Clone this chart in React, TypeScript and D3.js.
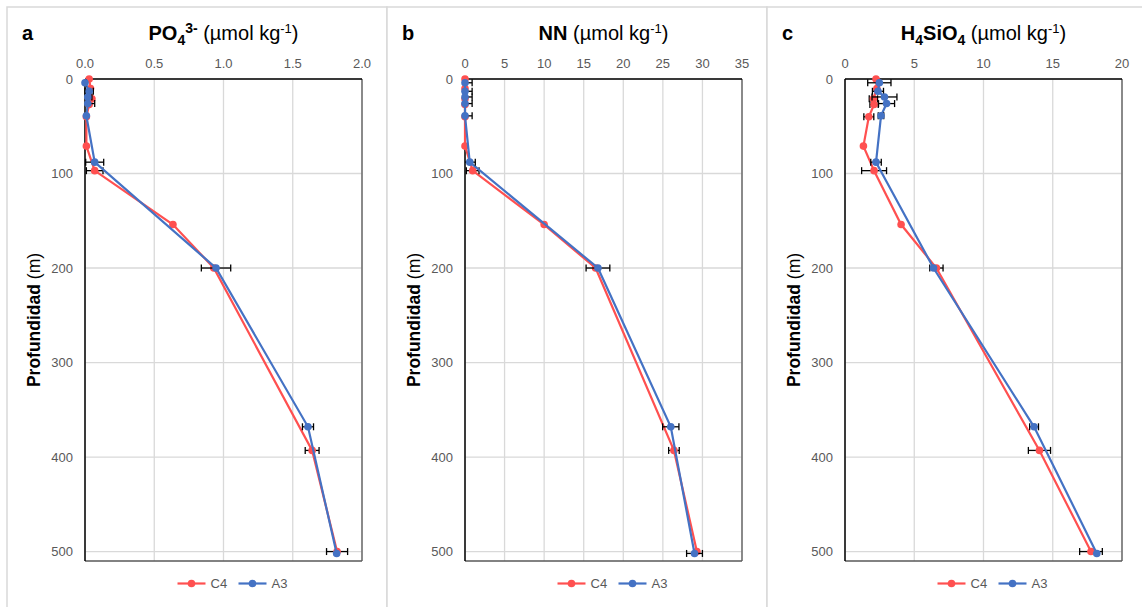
import React from 'react';
import * as d3 from 'd3';

// ---- data ----
const depthC4 = [0, 10, 21, 27, 40, 71, 97, 154, 200, 393, 500];
const depthA3 = [4, 13, 19, 26, 39, 88, 200, 368, 502];

const po4C4 = [0.03, 0.04, 0.05, 0.03, 0.01, 0.01, 0.07, 0.635, 0.93, 1.64, 1.82];
const po4C4Err = [0, 0, 0, 0, 0, 0, 0.06, 0, 0, 0.05, 0.076];
const po4A3 = [0.0, 0.03, 0.02, 0.02, 0.01, 0.07, 0.946, 1.61, 1.817];
const po4A3Err = [0.01, 0.03, 0.03, 0.05, 0, 0.065, 0.106, 0.04, 0];

const nnC4 = [0, 0, 0, 0, 0, 0, 0.97, 10.0, 16.5, 26.4, 29.3];
const nnC4Err = [0, 0, 0, 0, 0, 0, 0.8, 0, 0, 0.67, 0];
const nnA3 = [0, 0, 0, 0, 0, 0.6, 16.8, 26.0, 29.0];
const nnA3Err = [0.9, 0.9, 0.9, 0.9, 0.9, 0.7, 1.5, 1.03, 1.0];

const siC4 = [2.24, 2.3, 2.05, 2.1, 1.72, 1.33, 2.1, 4.05, 6.6, 14.04, 17.76];
const siC4Err = [0, 0, 0.3, 0.3, 0.36, 0, 0.9, 0, 0.48, 0.8, 0.82];
const siA3 = [2.48, 2.38, 2.85, 3.0, 2.6, 2.24, 6.39, 13.65, 18.18];
const siA3Err = [0.84, 0.4, 0.9, 0.58, 0.2, 0.38, 0, 0.32, 0];

const po4Ticks = [0, 0.5, 1.0, 1.5, 2.0];
const nnTicks = [0, 5, 10, 15, 20, 25, 30, 35];
const siTicks = [0, 5, 10, 15, 20];
const depthTicks = [0, 100, 200, 300, 400, 500];

const seriesNames = ['C4', 'A3'];
const panelLetters = ['a', 'b', 'c'];
const yTitle = 'Profundidad';

const RED = '#ff5050';
const BLUE = '#4472c4';
const FONT = "'Liberation Sans', Arial, sans-serif";

type PanelProps = {
  x0: number;
  letter: string;
  title: React.ReactNode;
  ticks: number[];
  fmt: (v: number) => string;
  c4: number[];
  c4Err: number[];
  a3: number[];
  a3Err: number[];
};

const PW = 380;
const PLOT_L = 78;
const PLOT_W = 277;
const PLOT_T = 79;
const PLOT_H = 482;

function Panel({ x0, letter, title, ticks, fmt, c4, c4Err, a3, a3Err }: PanelProps) {
  const left = x0 + PLOT_L;
  const x = d3.scaleLinear().domain([ticks[0], ticks[ticks.length - 1]]).range([left, left + PLOT_W]);
  const y = d3.scaleLinear().domain([0, 510]).range([PLOT_T, PLOT_T + PLOT_H]);
  const [xmin, xmax] = x.domain();
  const line = d3
    .line<[number, number]>()
    .x((d) => x(d[0]))
    .y((d) => y(d[1]));

  const series = [
    { vals: c4, err: c4Err, depth: depthC4, color: RED },
    { vals: a3, err: a3Err, depth: depthA3, color: BLUE },
  ];

  const cx = left + PLOT_W / 2;

  return (
    <g>
      <rect x={x0} y={7} width={PW} height={640} fill="#fff" stroke="#d9d9d9" strokeWidth={1.5} />
      <text x={x0 + 15} y={40} fontSize={20} fontWeight="bold" fontFamily={FONT} fill="#000">
        {letter}
      </text>
      <text x={cx} y={40} textAnchor="middle" fontSize={20} fontFamily={FONT} fill="#000">
        {title}
      </text>
      {/* grid */}
      {ticks.map((t) => (
        <line key={'gx' + t} x1={x(t)} x2={x(t)} y1={PLOT_T} y2={PLOT_T + PLOT_H} stroke="#d9d9d9" strokeWidth={1.3} />
      ))}
      {depthTicks.map((t) => (
        <line key={'gy' + t} x1={left} x2={left + PLOT_W} y1={y(t)} y2={y(t)} stroke="#d9d9d9" strokeWidth={1.3} />
      ))}
      {/* plot border */}
      <line x1={left + PLOT_W} x2={left + PLOT_W} y1={PLOT_T} y2={PLOT_T + PLOT_H} stroke="#595959" strokeWidth={1.3} />
      <line x1={left} x2={left + PLOT_W} y1={PLOT_T + PLOT_H} y2={PLOT_T + PLOT_H} stroke="#595959" strokeWidth={1.3} />
      <line x1={left} x2={left + PLOT_W} y1={PLOT_T} y2={PLOT_T} stroke="#000" strokeWidth={1.5} />
      <line x1={left} x2={left} y1={PLOT_T} y2={PLOT_T + PLOT_H} stroke="#000" strokeWidth={1.5} />
      {/* tick labels */}
      {ticks.map((t) => (
        <text key={'tx' + t} x={x(t)} y={68} textAnchor="middle" fontSize={13} fontFamily={FONT} fill="#595959">
          {fmt(t)}
        </text>
      ))}
      {depthTicks.map((t) => (
        <text key={'ty' + t} x={left - 12} y={y(t) + 4.5} textAnchor="end" fontSize={13} fontFamily={FONT} fill="#595959">
          {t}
        </text>
      ))}
      {/* y title */}
      <text
        transform={`translate(${x0 + 27},${PLOT_T + PLOT_H / 2}) rotate(-90)`}
        textAnchor="middle"
        dy="6"
        fontSize={17.5}
        fontFamily={FONT}
        fill="#000"
      >
        <tspan fontWeight="bold">{yTitle}</tspan>
        <tspan> (m)</tspan>
      </text>
      {/* series */}
      {series.map((s, si) => {
        const pts = s.vals.map((v, i) => [v, s.depth[i]] as [number, number]);
        return (
          <g key={'s' + si}>
            <path d={line(pts) || ''} fill="none" stroke={s.color} strokeWidth={2.2} />
            {pts.map((p, i) => {
              const e = s.err[i];
              if (!e) return null;
              const lo = Math.max(p[0] - e, xmin);
              const hi = Math.min(p[0] + e, xmax);
              const yy = y(p[1]);
              return (
                <g key={'e' + i} stroke="#000" strokeWidth={1.3}>
                  <line x1={x(lo)} x2={x(hi)} y1={yy} y2={yy} />
                  {p[0] - e >= xmin && <line x1={x(lo)} x2={x(lo)} y1={yy - 3.5} y2={yy + 3.5} />}
                  {p[0] + e <= xmax && <line x1={x(hi)} x2={x(hi)} y1={yy - 3.5} y2={yy + 3.5} />}
                </g>
              );
            })}
            {pts.map((p, i) => (
              <circle key={'c' + i} cx={x(p[0])} cy={y(p[1])} r={3.8} fill={s.color} />
            ))}
          </g>
        );
      })}
      {/* legend */}
      {seriesNames.map((n, i) => {
        const lx = cx - 46 + i * 61;
        const color = i === 0 ? RED : BLUE;
        return (
          <g key={'lg' + n}>
            <line x1={lx} x2={lx + 28} y1={583.5} y2={583.5} stroke={color} strokeWidth={2.2} />
            <circle cx={lx + 14} cy={583.5} r={3.8} fill={color} />
            <text x={lx + 33} y={588} fontSize={13} fontFamily={FONT} fill="#595959">
              {n}
            </text>
          </g>
        );
      })}
    </g>
  );
}

const unit = (
  <>
    <tspan> (µmol kg</tspan>
    <tspan fontSize={13} dy={-7}>-1</tspan>
    <tspan dy={7}>)</tspan>
  </>
);

export default function App() {
  const f1 = d3.format('.1f');
  const f0 = d3.format('d');
  return (
    <svg
      width={1142}
      height={607}
      style={{ position: 'absolute', left: 0, top: 0, background: '#fff' }}
    >
      <rect x={0} y={0} width={1142} height={607} fill="#fff" />
      <Panel
        x0={7}
        letter={panelLetters[0]}
        title={
          <>
            <tspan fontWeight="bold">PO</tspan>
            <tspan fontWeight="bold" fontSize={14} dy={5}>4</tspan>
            <tspan fontWeight="bold" fontSize={14} dy={-12}>3-</tspan>
            <tspan dy={7}>{' '}</tspan>
            <tspan>(µmol kg</tspan>
            <tspan fontSize={13} dy={-7}>-1</tspan>
            <tspan dy={7}>)</tspan>
          </>
        }
        ticks={po4Ticks}
        fmt={f1}
        c4={po4C4}
        c4Err={po4C4Err}
        a3={po4A3}
        a3Err={po4A3Err}
      />
      <Panel
        x0={387}
        letter={panelLetters[1]}
        title={
          <>
            <tspan fontWeight="bold">NN</tspan>
            {unit}
          </>
        }
        ticks={nnTicks}
        fmt={f0}
        c4={nnC4}
        c4Err={nnC4Err}
        a3={nnA3}
        a3Err={nnA3Err}
      />
      <Panel
        x0={767}
        letter={panelLetters[2]}
        title={
          <>
            <tspan fontWeight="bold">H</tspan>
            <tspan fontWeight="bold" fontSize={14} dy={5}>4</tspan>
            <tspan fontWeight="bold" dy={-5}>SiO</tspan>
            <tspan fontWeight="bold" fontSize={14} dy={5}>4</tspan>
            <tspan dy={-5}> (µmol kg</tspan>
            <tspan fontSize={13} dy={-7}>-1</tspan>
            <tspan dy={7}>)</tspan>
          </>
        }
        ticks={siTicks}
        fmt={f0}
        c4={siC4}
        c4Err={siC4Err}
        a3={siA3}
        a3Err={siA3Err}
      />
    </svg>
  );
}
